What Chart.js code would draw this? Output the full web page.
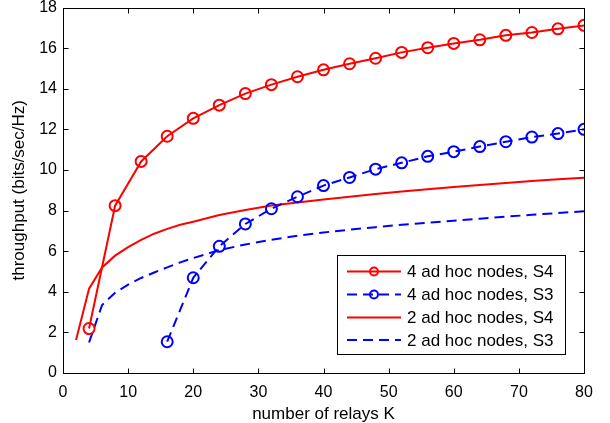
<!DOCTYPE html>
<html>
<head>
<meta charset="utf-8">
<script src="https://cdn.jsdelivr.net/npm/chart.js@4.4.1/dist/chart.umd.min.js"></script>
<style>
  html, body { margin: 0; padding: 0; background: #fff; }
  #wrap { width: 610px; height: 423px; position: relative; }
</style>
</head>
<body>
<div id="wrap"><canvas id="chart"></canvas></div>
<script>
// ── Data ────────────────────────────────────────────────────────────────────
const RELAYS_4_S4 = [4, 8, 12, 16, 20, 24, 28, 32, 36, 40, 44, 48, 52, 56, 60, 64, 68, 72, 76, 80];
const THR_4_S4    = [2.19, 8.24, 10.42, 11.66, 12.54, 13.19, 13.76, 14.2, 14.59, 14.93,
                     15.23, 15.5, 15.79, 16.02, 16.23, 16.41, 16.63, 16.77, 16.95, 17.12];

const RELAYS_4_S3 = [16, 20, 24, 28, 32, 36, 40, 44, 48, 52, 56, 60, 64, 68, 72, 76, 80];
const THR_4_S3    = [1.54, 4.69, 6.24, 7.34, 8.09, 8.68, 9.23, 9.63, 10.04, 10.35,
                     10.67, 10.9, 11.15, 11.39, 11.62, 11.79, 12.0];

const RELAYS_2_S4 = [2, 4, 6, 8, 10, 12, 14, 16, 18, 20, 24, 28, 32, 36, 40, 44, 48, 52, 56, 60, 64, 68, 72, 76, 80];
const THR_2_S4    = [1.62, 4.15, 5.2, 5.78, 6.2, 6.56, 6.86, 7.1, 7.3, 7.45, 7.78, 8.03, 8.25,
                     8.4, 8.55, 8.68, 8.82, 8.94, 9.05, 9.16, 9.26, 9.36, 9.45, 9.54, 9.62];

const RELAYS_2_S3 = [4, 6, 8, 10, 12, 14, 16, 18, 20, 24, 28, 32, 36, 40, 44, 48, 52, 56, 60, 64, 68, 72, 76, 80];
const THR_2_S3    = [1.5, 3.35, 3.95, 4.35, 4.68, 4.95, 5.2, 5.45, 5.66, 6.05, 6.33, 6.56, 6.76,
                     6.92, 7.06, 7.18, 7.3, 7.4, 7.5, 7.6, 7.7, 7.79, 7.88, 7.96];

const LABELS = ['4 ad hoc nodes, S4', '4 ad hoc nodes, S3', '2 ad hoc nodes, S4', '2 ad hoc nodes, S3'];

// ── Style ────────────────────────────────────────────────────────────────────
const RED  = '#ff0000';
const BLUE = '#0000ff';
const DASH = [10, 6];
const FONT_FAMILY = '"Liberation Sans", Arial, Helvetica, sans-serif';

Chart.defaults.font.family = FONT_FAMILY;
Chart.defaults.color = '#000';

const pts = (xs, ys) => xs.map((x, i) => ({ x, y: ys[i] }));

function series(label, xs, ys, color, dashed, markers) {
  return {
    label,
    data: pts(xs, ys),
    borderColor: color,
    backgroundColor: color,
    borderWidth: 2,
    borderDash: dashed ? DASH : [],
    pointRadius: markers ? 5.5 : 0,
    pointHoverRadius: markers ? 5.5 : 0,
    pointStyle: 'circle',
    pointBorderWidth: 2,
    pointBackgroundColor: 'rgba(0,0,0,0)',
    pointBorderColor: color,
    tension: 0,
    fill: false,
  };
}

// ── Frame, inward ticks and MATLAB-like legend ───────────────────────────────
const matlabFrame = {
  id: 'matlabFrame',
  afterDraw(chart) {
    const { ctx, chartArea: a, scales: { x, y } } = chart;
    const TL = 5;
    ctx.save();
    ctx.strokeStyle = '#000';
    ctx.lineWidth = 1;
    const L = Math.round(a.left) + 0.5, R = Math.round(a.right) + 0.5;
    const T = Math.round(a.top) + 0.5, B = Math.round(a.bottom) + 0.5;
    ctx.strokeRect(L, T, R - L, B - T);
    ctx.beginPath();
    x.ticks.forEach(t => {
      const px = Math.round(x.getPixelForValue(t.value)) + 0.5;
      if (px <= L + 1 || px >= R - 1) return;
      ctx.moveTo(px, B); ctx.lineTo(px, B - TL);
      ctx.moveTo(px, T); ctx.lineTo(px, T + TL);
    });
    y.ticks.forEach(t => {
      const py = Math.round(y.getPixelForValue(t.value)) + 0.5;
      if (py <= T + 1 || py >= B - 1) return;
      ctx.moveTo(L, py); ctx.lineTo(L + TL, py);
      ctx.moveTo(R, py); ctx.lineTo(R - TL, py);
    });
    ctx.stroke();

    // legend box
    const bx = 337.5, by = 255.5, bw = 228, bh = 99;
    ctx.fillStyle = '#fff';
    ctx.fillRect(bx, by, bw, bh);
    ctx.strokeRect(bx, by, bw, bh);
    const rowY = [271.5, 294.5, 317.5, 340];
    ctx.font = '17px ' + FONT_FAMILY;
    ctx.textBaseline = 'middle';
    ctx.textAlign = 'left';
    chart.data.datasets.forEach((ds, i) => {
      const yy = rowY[i];
      ctx.strokeStyle = ds.borderColor;
      ctx.lineWidth = 2;
      ctx.setLineDash(ds.borderDash || []);
      ctx.beginPath();
      ctx.moveTo(347, yy); ctx.lineTo(401, yy);
      ctx.stroke();
      ctx.setLineDash([]);
      if (ds.pointRadius > 0) {
        ctx.beginPath();
        ctx.arc(374, yy, 4, 0, Math.PI * 2);
        ctx.stroke();
      }
      ctx.fillStyle = '#000';
      ctx.fillText(ds.label, 407, yy + 1);
    });
    ctx.restore();
  },
};

new Chart(document.getElementById('chart').getContext('2d'), {
  type: 'line',
  data: {
    datasets: [
      series(LABELS[0], RELAYS_4_S4, THR_4_S4, RED, false, true),
      series(LABELS[1], RELAYS_4_S3, THR_4_S3, BLUE, true, true),
      series(LABELS[2], RELAYS_2_S4, THR_2_S4, RED, false, false),
      series(LABELS[3], RELAYS_2_S3, THR_2_S3, BLUE, true, false),
    ],
  },
  options: {
    responsive: true, maintainAspectRatio: false, animation: false,
    layout: { padding: { top: 6, right: 26, left: 0, bottom: 0 } },
    plugins: { legend: { display: false }, tooltip: { enabled: false } },
    scales: {
      x: {
        type: 'linear', min: 0, max: 80,
        ticks: { stepSize: 10, font: { size: 16 }, color: '#000', padding: 10, maxRotation: 0 },
        grid: { display: false, drawTicks: false },
        border: { display: false },
        title: { display: true, text: 'number of relays K', font: { size: 17, lineHeight: 1 }, color: '#000', padding: { top: 0, bottom: 0 } },
        afterFit: s => { s.height = 50; s.paddingLeft = 0; s.paddingRight = 0; },
      },
      y: {
        type: 'linear', min: 0, max: 18,
        ticks: { stepSize: 2, font: { size: 16 }, color: '#000', padding: 6 },
        grid: { display: false, drawTicks: false },
        border: { display: false },
        title: { display: true, text: 'throughput (bits/sec/Hz)', font: { size: 17, lineHeight: 1 }, color: '#000', padding: { top: 11, bottom: 0 } },
        afterFit: s => { s.width = 63; s.paddingTop = 0; s.paddingBottom = 0; },
      },
    },
  },
  plugins: [matlabFrame],
});
</script>
</body>
</html>
